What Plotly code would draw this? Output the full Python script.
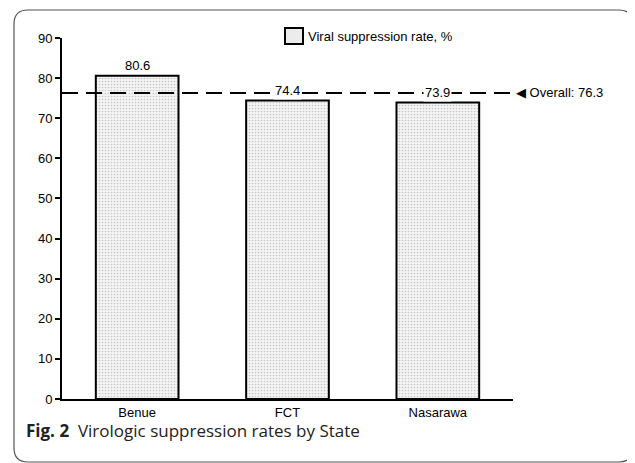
import plotly.graph_objects as go

states = ["Benue", "FCT", "Nasarawa"]
rates = [80.6, 74.4, 73.9]
overall = 76.3
y_ticks = [0, 10, 20, 30, 40, 50, 60, 70, 80, 90]
series_name = "Viral suppression rate, %"
caption_bold = "Fig. 2"
caption_text = "Virologic suppression rates by State"

# page has an 8px body margin; work in page pixel coordinates
OFF = 8
FW, FH = 635 - OFF, 463 - OFF
PL, PR, PT, PB = 62, 513, 38, 399  # plot area in page pixels
L, T = PL - OFF, PT - OFF
R, B = (OFF + FW) - PR, (OFF + FH) - PB
W = PR - PL
H = PB - PT

def px2x(px):
    return (px - PL) / W

def py2y(py):
    return (PB - py) / H

fig = go.Figure()
fig.add_trace(go.Bar(
    x=states, y=rates, name=series_name,
    marker=dict(color="#f2f2f2",
                line=dict(color="black", width=2),
                pattern=dict(shape=".", fgcolor="#9a9a9a", bgcolor="#f4f4f4",
                             size=3, solidity=0.25)),
    width=0.55, showlegend=False,
))

# overall dashed line
fig.add_shape(type="line", xref="paper", yref="y", x0=0, x1=px2x(511),
              y0=overall, y1=overall,
              line=dict(color="black", width=2, dash="16px,8px"), layer="above")

# value labels
for s, v in zip(states, rates):
    on_line = abs(v - overall) < 4
    fig.add_annotation(x=s, y=v, xref="x", yref="y", text=f"{v:.1f}",
                       showarrow=False, yanchor="bottom", yshift=1,
                       font=dict(family="Liberation Sans, Arial", size=13, color="black"),
                       bgcolor="white" if on_line else "rgba(0,0,0,0)",
                       borderpad=1)

fig.add_annotation(x=px2x(514), y=overall, xref="paper", yref="y",
                   text=f"◀ Overall: {overall}", showarrow=False, xanchor="left",
                   font=dict(family="Liberation Sans, Arial", size=13, color="black"))

# legend (drawn manually to match the larger swatch)
fig.add_shape(type="rect", xref="paper", yref="paper",
              x0=px2x(285), x1=px2x(303), y0=py2y(44), y1=py2y(28),
              fillcolor="#ececec", line=dict(color="black", width=2))
fig.add_annotation(x=px2x(306), y=py2y(36), xref="paper", yref="paper",
                   text=series_name, showarrow=False, xanchor="left",
                   yanchor="middle",
                   font=dict(family="Liberation Sans, Arial", size=13, color="black"))

# caption
fig.add_annotation(x=px2x(24), y=py2y(430), xref="paper", yref="paper",
                   text=f"<b>{caption_bold}</b>  {caption_text}", showarrow=False,
                   xanchor="left", yanchor="middle",
                   font=dict(family="Open Sans, Noto Sans", size=17, color="#222"))

# rounded frame
x0, x1 = px2x(14), px2x(633)
y0, y1 = py2y(462), py2y(10)
rx, ry = 14 / W, 14 / H
path = (f"M {x0+rx},{y1} L {x1-rx},{y1} Q {x1},{y1} {x1},{y1-ry} "
        f"L {x1},{y0+ry} Q {x1},{y0} {x1-rx},{y0} L {x0+rx},{y0} "
        f"Q {x0},{y0} {x0},{y0+ry} L {x0},{y1-ry} Q {x0},{y1} {x0+rx},{y1} Z")
fig.add_shape(type="path", xref="paper", yref="paper", path=path,
              line=dict(color="#555", width=1.2))

fig.update_layout(
    width=FW, height=FH,
    margin=dict(l=L, r=R, t=T, b=B),
    paper_bgcolor="white", plot_bgcolor="white",
    bargap=0.45,
    showlegend=False,
    font=dict(family="Liberation Sans, Arial", size=13, color="black"),
    xaxis=dict(showline=True, linecolor="black", linewidth=2, ticks="",
               tickfont=dict(size=13), range=[-0.5, 2.5], fixedrange=True),
    yaxis=dict(range=[0, 90], tickvals=y_ticks, showline=True, linecolor="black",
               linewidth=2, ticks="outside", ticklen=5, tickwidth=2,
               tickcolor="black", showgrid=False, zeroline=False,
               tickfont=dict(size=13)),
)

fig.write_html("out.html")
